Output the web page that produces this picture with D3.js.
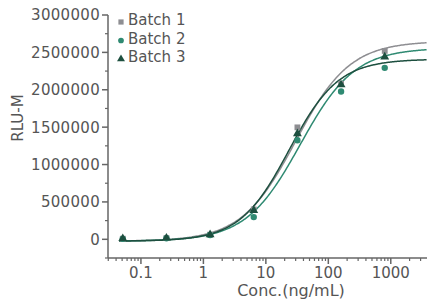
<!DOCTYPE html>
<html>
<head>
<meta charset="utf-8">
<script src="https://cdn.jsdelivr.net/npm/d3@7"></script>
<style>
    body { margin: 0; background: #fff; }
    svg { display: block; font-family: "DejaVu Sans", sans-serif; }
</style>
</head>
<body>
<svg id="chart" width="427" height="301"></svg>
<script>
// Data
const concentrations = [0.0512, 0.256, 1.28, 6.4, 32, 160, 800];
const batchNames = ['Batch 1', 'Batch 2', 'Batch 3'];
const batch1 = [8000, 16000, 62000, 400000, 1497000, 2080000, 2520000];
const batch2 = [6000, 14000, 58000, 297000, 1324000, 1977000, 2293000];
const batch3 = [10000, 17000, 63000, 387000, 1413000, 2067000, 2440000];
// 4PL fit parameters per batch: [bottom, top, EC50, hill]
const fit1 = [-25000, 2650000, 30, 1.0];
const fit2 = [-25000, 2560000, 35.5, 1.0];
const fit3 = [-25000, 2410000, 23.5, 1.1];
const yTicks = [0, 500000, 1000000, 1500000, 2000000, 2500000, 3000000];
const xTicks = [0.1, 1, 10, 100, 1000];

const colors = ['#8e8e92', '#2f8a72', '#1d4f3f'];
const symbols = [d3.symbolSquare, d3.symbolCircle, d3.symbolTriangle];
const symbolSizes = [34, 32, 34];
const textColor = '#555';
const axisColor = '#666';

const svg = d3.select('#chart');
const margin = { left: 108, top: 15, bottom: 258 };

const x = d3.scaleLog().domain([0.0297, 3800]).range([margin.left, 427]);
const y = d3.scaleLinear().domain([-250000, 3000000]).range([margin.bottom, margin.top]);

// Axes
const yAxis = svg.append('g').attr('transform', `translate(${margin.left},0)`);
yAxis.append('line')
    .attr('x1', 0).attr('x2', 0)
    .attr('y1', y(3000000)).attr('y2', y(-250000))
    .attr('stroke', axisColor).attr('stroke-width', 1.5);
yAxis.selectAll('.major').data(yTicks).enter().append('line')
    .attr('x1', -6).attr('x2', 0)
    .attr('y1', d => y(d)).attr('y2', d => y(d))
    .attr('stroke', axisColor).attr('stroke-width', 1.5);
yAxis.selectAll('.minor').data(d3.range(-250000, 3000000, 500000)).enter().append('line')
    .attr('x1', -3).attr('x2', 0)
    .attr('y1', d => y(d)).attr('y2', d => y(d))
    .attr('stroke', axisColor).attr('stroke-width', 1.2);
yAxis.selectAll('text').data(yTicks).enter().append('text')
    .attr('x', -8).attr('y', d => y(d))
    .attr('dy', '0.36em')
    .attr('text-anchor', 'end')
    .attr('fill', textColor)
    .style('font-size', '15px')
    .style('letter-spacing', '0.3px')
    .text(d => d);

const xAxis = svg.append('g').attr('transform', `translate(0,${margin.bottom})`);
xAxis.append('line')
    .attr('x1', margin.left).attr('x2', 427)
    .attr('stroke', axisColor).attr('stroke-width', 1.5);
const minorX = [];
[0.01, 0.1, 1, 10, 100, 1000].forEach(dec => {
    for (let k = 2; k <= 9; k++) {
        const v = dec * k;
        if (v >= x.domain()[0] && v <= x.domain()[1]) minorX.push(v);
    }
});
xAxis.selectAll('.minor').data(minorX).enter().append('line')
    .attr('x1', d => x(d)).attr('x2', d => x(d))
    .attr('y1', 0).attr('y2', 3)
    .attr('stroke', axisColor).attr('stroke-width', 1.2);
xAxis.selectAll('.major').data(xTicks).enter().append('line')
    .attr('x1', d => x(d)).attr('x2', d => x(d))
    .attr('y1', 0).attr('y2', 6)
    .attr('stroke', axisColor).attr('stroke-width', 1.5);
xAxis.selectAll('text').data(xTicks).enter().append('text')
    .attr('x', d => x(d)).attr('y', 20)
    .attr('text-anchor', 'middle')
    .attr('fill', textColor)
    .style('font-size', '15px')
    .text(d => d);

// Axis titles
svg.append('text')
    .attr('x', 291).attr('y', 296)
    .attr('text-anchor', 'middle')
    .attr('fill', textColor)
    .style('font-size', '16px')
    .text('Conc.(ng/mL)');
svg.append('text')
    .attr('transform', 'translate(23,118) rotate(-90)')
    .attr('text-anchor', 'middle')
    .attr('fill', textColor)
    .style('font-size', '15px')
    .text('RLU-M');

// Fitted curves
const fourPL = (p, c) => p[0] + (p[1] - p[0]) / (1 + Math.pow(p[2] / c, p[3]));
const curveX = d3.range(Math.log10(0.045), Math.log10(3800), 0.02).map(v => Math.pow(10, v));
const line = d3.line().x(d => x(d[0])).y(d => y(d[1])).curve(d3.curveMonotoneX);

const fits = [fit1, fit2, fit3];
const series = [batch1, batch2, batch3];

fits.forEach((p, i) => {
    svg.append('path')
        .datum(curveX.map(c => [c, fourPL(p, c)]))
        .attr('d', line)
        .attr('fill', 'none')
        .attr('stroke', colors[i])
        .attr('stroke-width', 1.5);
});

// Points
series.forEach((vals, i) => {
    svg.append('g').selectAll('path')
        .data(vals.map((v, j) => [concentrations[j], v]))
        .enter().append('path')
        .attr('transform', d => `translate(${x(d[0])},${y(d[1])})`)
        .attr('d', d3.symbol().type(symbols[i]).size(symbolSizes[i]))
        .attr('fill', colors[i]);
});

// Legend
const legend = svg.append('g');
batchNames.forEach((name, i) => {
    const ly = 20 + i * 18.5;
    legend.append('path')
        .attr('transform', `translate(121,${ly + 2})`)
        .attr('d', d3.symbol().type(symbols[i]).size(symbolSizes[i] * 0.8))
        .attr('fill', colors[i]);
    legend.append('text')
        .attr('x', 128).attr('y', ly)
        .attr('dy', '0.36em')
        .attr('fill', textColor)
        .style('font-size', '15px')
        .text(name);
});
</script>
</body>
</html>
